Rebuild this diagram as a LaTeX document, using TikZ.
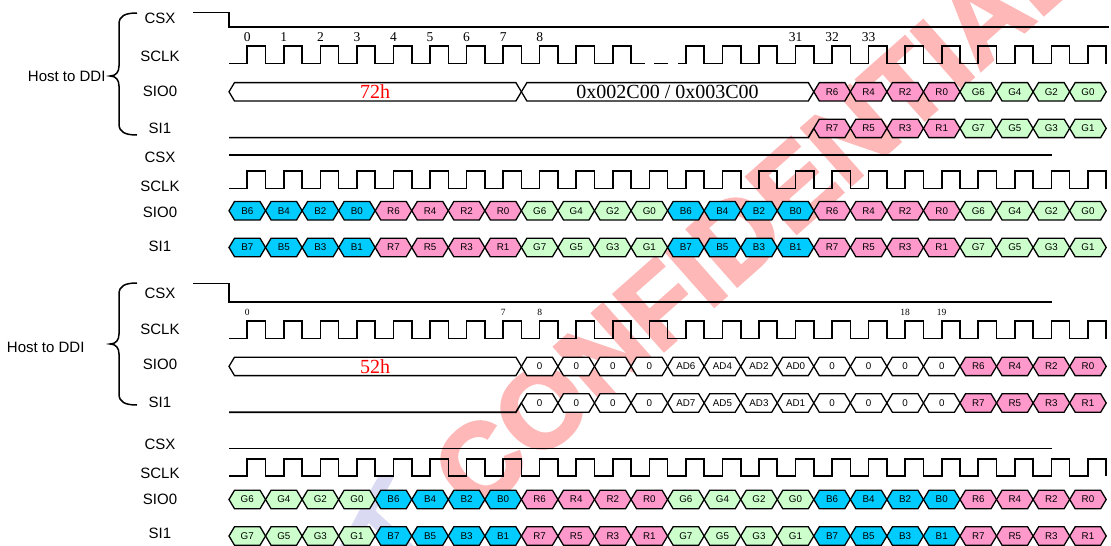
\documentclass[tikz,border=0pt]{standalone}
\usepackage{fontspec}
\setmainfont{Liberation Sans}
\newfontfamily\tnr{Liberation Serif}
\newfontfamily\wmfont[FakeBold=2.5]{Liberation Sans Bold}
\usepackage{tikz}
\definecolor{rdata}{HTML}{FF99CC}
\definecolor{gdata}{HTML}{CCFFCC}
\definecolor{bdata}{HTML}{00CCFF}
\definecolor{wmarkred}{HTML}{FFB8B8}
\definecolor{lavmark}{HTML}{DADAF2}
\newcommand\clkX{229}
\newcommand\clkT{36.55}
\tikzset{%
    wave/.style={line width=1.6pt},
    cell/.style={line width=1.3pt},
    brace/.style={line width=1.5pt},
    sig/.style={font=\fontsize{15}{18}\selectfont},
    celltext/.style={font=\fontsize{9.8}{11}\selectfont, inner sep=0pt, text depth=0pt},
    bustext/.style={font=\tnr\fontsize{20}{22}\selectfont, inner sep=0pt, text depth=0pt},
    bitnum/.style={font=\tnr\fontsize{13.5}{15}\selectfont, inner sep=0pt, text depth=0pt},
    bitsmall/.style={font=\tnr\fontsize{9.5}{11}\selectfont, inner sep=0pt, text depth=0pt}
}
\newcommand\HostBrace[3]{%
    \draw[brace] (137,#1) .. controls (125,#1) and (119,#1+3) .. (119,#1+11)
        -- (119,#2-10) .. controls (119,#2-4) and (116,#2) .. (110,#2)
        .. controls (116,#2) and (119,#2+4) .. (119,#2+10)
        -- (119,#3-11) .. controls (119,#3-3) and (125,#3) .. (137,#3);
}
\newcommand\SclkWave[4]{%
    \draw[wave] (#1,#3) \foreach \k in {#4}{
        -- ({\clkX+(\k+0.5)*\clkT},#3) -- ({\clkX+(\k+0.5)*\clkT},#2)
        -- ({\clkX+(\k+1)*\clkT},#2) -- ({\clkX+(\k+1)*\clkT},#3)};
}
\newcommand\BusCell[5]{%
    \filldraw[cell, fill=white] (#3,#2) -- (#3+5.5,#2-9.2) -- (#4-5.5,#2-9.2)
        -- (#4,#2) -- (#4-5.5,#2+9.2) -- (#3+5.5,#2+9.2) -- cycle;
    \node[bustext] (#1) at ({(#3+#4)/2},#2) {#5};
}
\newcommand\IdleLine[2]{%
    \draw[wave] (\clkX,#1+9.2) -- (#2-5.5,#1+9.2) -- (#2,#1);
}
\newcommand\DataRow[4]{%
    \foreach \lab/\col [count=\i from #3] in {#4}{
        \filldraw[cell, fill=\col] ({\clkX+\i*\clkT},#2)
            -- ({\clkX+\i*\clkT+5.5},#2-9.2) -- ({\clkX+(\i+1)*\clkT-5.5},#2-9.2)
            -- ({\clkX+(\i+1)*\clkT},#2) -- ({\clkX+(\i+1)*\clkT-5.5},#2+9.2)
            -- ({\clkX+\i*\clkT+5.5},#2+9.2) -- cycle;
        \node[celltext] (#1-\i) at ({\clkX+(\i+0.5)*\clkT},#2) {\lab};
    }
}
\begin{document}
\begin{tikzpicture}[x=1pt, y=-1pt]
      \useasboundingbox (0,0) rectangle (1111,546);

      % watermark
      \node[text=wmarkred, font=\wmfont\fontsize{110}{110}\selectfont, rotate=41.5] (wm) at (757,218) {CONFIDENTIAL};
      \fill[lavmark] (378,477) -- (394,477) -- (356,546) -- (340,546) -- cycle;
      \fill[lavmark] (358,512) -- (368,504) -- (414,546) -- (392,546) -- cycle;

      % section 1
      \node[sig] (csx1) at (160,18) {CSX};
      \node[sig] (sclk1) at (160,56) {SCLK};
      \node[sig] (sio1) at (160,91) {SIO0};
      \node[sig] (si1) at (160,128) {SI1};
      \node[sig, anchor=east] (host1) at (109,76) {Host to DDI};
      \HostBrace{13}{76}{135}
      \draw[wave] (193,12.5) -- (229,12.5) -- (229,27) -- (1109,27);
      \foreach \k/\n in {0/0,1/1,2/2,3/3,4/4,5/5,6/6,7/7,8/8,15/31,16/32,17/33}
          \node[bitnum] (n1-\n) at ({\clkX+(\k+0.5)*\clkT},37) {\n};
      \SclkWave{229}{46}{63.5}{0,...,10}
      \draw[wave] (631,63.5) -- (645,63.5) (654,63.5) -- (668,63.5);
      \SclkWave{678}{46}{63.5}{12,...,23}
      \BusCell{cmd1}{91.8}{229}{521.4}{\color{red}72h}
      \BusCell{addr1}{91.8}{521.4}{813.8}{0x002C00 / 0x003C00}
      \DataRow{d1}{91.8}{16}{R6/rdata,R4/rdata,R2/rdata,R0/rdata,G6/gdata,G4/gdata,G2/gdata,G0/gdata}
      \IdleLine{128.4}{813.8}
      \DataRow{e1}{128.4}{16}{R7/rdata,R5/rdata,R3/rdata,R1/rdata,G7/gdata,G5/gdata,G3/gdata,G1/gdata}

      % section 2
      \node[sig] (csx2) at (160,157) {CSX};
      \node[sig] (sclk2) at (160,186) {SCLK};
      \node[sig] (sio2) at (160,212) {SIO0};
      \node[sig] (si2) at (160,246) {SI1};
      \draw[wave] (229,155) -- (1052,155);
      \SclkWave{229}{171}{188.5}{0,...,23}
      \DataRow{d2}{210.7}{0}{B6/bdata,B4/bdata,B2/bdata,B0/bdata,R6/rdata,R4/rdata,R2/rdata,R0/rdata,G6/gdata,G4/gdata,G2/gdata,G0/gdata,B6/bdata,B4/bdata,B2/bdata,B0/bdata,R6/rdata,R4/rdata,R2/rdata,R0/rdata,G6/gdata,G4/gdata,G2/gdata,G0/gdata}
      \DataRow{e2}{247.5}{0}{B7/bdata,B5/bdata,B3/bdata,B1/bdata,R7/rdata,R5/rdata,R3/rdata,R1/rdata,G7/gdata,G5/gdata,G3/gdata,G1/gdata,B7/bdata,B5/bdata,B3/bdata,B1/bdata,R7/rdata,R5/rdata,R3/rdata,R1/rdata,G7/gdata,G5/gdata,G3/gdata,G1/gdata}

      % section 3
      \node[sig] (csx3) at (160,293) {CSX};
      \node[sig] (sclk3) at (160,329) {SCLK};
      \node[sig] (sio3) at (160,364) {SIO0};
      \node[sig] (si3) at (160,402) {SI1};
      \node[sig, anchor=east] (host3) at (88,347) {Host to DDI};
      \HostBrace{283}{344}{405}
      \draw[wave] (193,283.5) -- (229,283.5) -- (229,301.8) -- (1052,301.8);
      \foreach \k/\n in {0/0,7/7,8/8,18/18,19/19}
          \node[bitsmall] (n3-\n) at ({\clkX+(\k+0.5)*\clkT},312) {\n};
      \SclkWave{229}{321}{338.5}{0,...,23}
      \BusCell{cmd3}{366.4}{229}{521.4}{\color{red}52h}
      \DataRow{d3}{366.4}{8}{0/white,0/white,0/white,0/white,AD6/white,AD4/white,AD2/white,AD0/white,0/white,0/white,0/white,0/white,R6/rdata,R4/rdata,R2/rdata,R0/rdata}
      \IdleLine{403}{521.4}
      \DataRow{e3}{403}{8}{0/white,0/white,0/white,0/white,AD7/white,AD5/white,AD3/white,AD1/white,0/white,0/white,0/white,0/white,R7/rdata,R5/rdata,R3/rdata,R1/rdata}

      % section 4
      \node[sig] (csx4) at (160,444) {CSX};
      \node[sig] (sclk4) at (160,473) {SCLK};
      \node[sig] (sio4) at (160,499) {SIO0};
      \node[sig] (si4) at (160,533) {SI1};
      \draw[wave] (229,448.4) -- (1052,448.4);
      \SclkWave{229}{459}{476}{0,...,23}
      \DataRow{d4}{499.5}{0}{G6/gdata,G4/gdata,G2/gdata,G0/gdata,B6/bdata,B4/bdata,B2/bdata,B0/bdata,R6/rdata,R4/rdata,R2/rdata,R0/rdata,G6/gdata,G4/gdata,G2/gdata,G0/gdata,B6/bdata,B4/bdata,B2/bdata,B0/bdata,R6/rdata,R4/rdata,R2/rdata,R0/rdata}
      \DataRow{e4}{536}{0}{G7/gdata,G5/gdata,G3/gdata,G1/gdata,B7/bdata,B5/bdata,B3/bdata,B1/bdata,R7/rdata,R5/rdata,R3/rdata,R1/rdata,G7/gdata,G5/gdata,G3/gdata,G1/gdata,B7/bdata,B5/bdata,B3/bdata,B1/bdata,R7/rdata,R5/rdata,R3/rdata,R1/rdata}
\end{tikzpicture}
\end{document}
